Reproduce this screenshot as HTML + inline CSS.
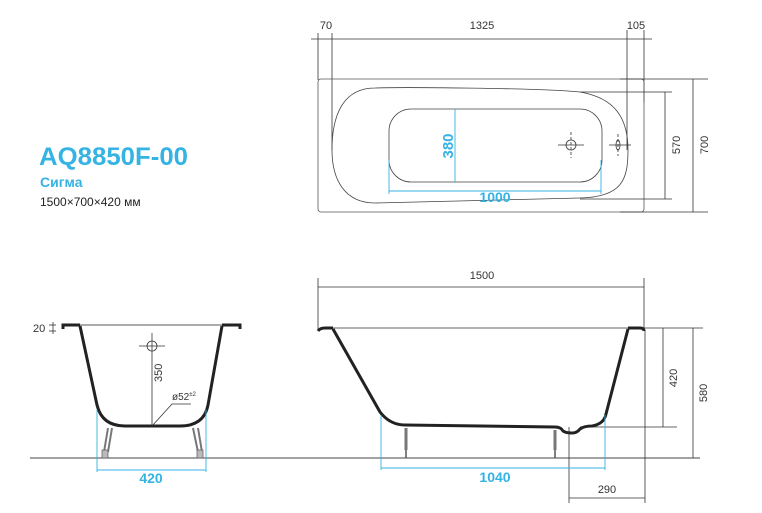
<!DOCTYPE html>
<html><head><meta charset="utf-8"><style>
html,body{margin:0;padding:0;background:#fff;}
svg{display:block;font-family:"Liberation Sans",sans-serif;}
</style></head><body>
<svg width="762" height="513" viewBox="0 0 762 513" xmlns="http://www.w3.org/2000/svg">
<rect width="762" height="513" fill="#fff"/>
<!-- title -->
<text x="39" y="165" font-size="25" font-weight="bold" fill="#35b3e3" textLength="149" lengthAdjust="spacingAndGlyphs">AQ8850F-00</text>
<text x="40" y="187" font-size="14" font-weight="bold" fill="#35b3e3">Сигма</text>
<text x="40" y="206" font-size="12" fill="#222">1500×700×420 мм</text>

<g stroke="#333" stroke-width="0.8" fill="none">
<!-- top view -->
<line x1="311" y1="39" x2="652" y2="39"/>
<line x1="318" y1="33" x2="318" y2="80"/>
<line x1="332" y1="33" x2="332" y2="150"/>
<line x1="627" y1="30" x2="627" y2="150"/>
<line x1="644" y1="30" x2="644" y2="102"/>
<rect x="318" y="79" width="326" height="133" rx="3" stroke="#555"/>
<path d="M375,88 C400,87 540,88 580,92 C615,98 628,118 628,150 C628,180 622,197 580,198 L375,203 C345,203 332,180 332,150 C332,112 345,88 375,88 Z" stroke="#444"/>
<rect x="389" y="109" width="213" height="73" rx="22" stroke="#444"/>
<line x1="580" y1="92" x2="672" y2="92"/>
<line x1="580" y1="199" x2="672" y2="199"/>
<line x1="665" y1="92" x2="665" y2="199"/>
<line x1="620" y1="79" x2="708" y2="79"/>
<line x1="620" y1="212" x2="708" y2="212"/>
<line x1="693" y1="79" x2="693" y2="212"/>
<circle cx="571" cy="145" r="5"/>
<line x1="558" y1="145" x2="584" y2="145"/><line x1="571" y1="132" x2="571" y2="158" stroke-dasharray="3,2"/>
<ellipse cx="618" cy="145" rx="2" ry="5"/>
<line x1="609" y1="145" x2="631" y2="145"/><line x1="618" y1="134" x2="618" y2="156" stroke-dasharray="3,2"/>
</g>
<g stroke="#35b3e3" stroke-width="0.9">
<line x1="455" y1="109" x2="455" y2="182"/>
<line x1="389" y1="191" x2="601" y2="191"/>
<line x1="389" y1="160" x2="389" y2="194"/>
<line x1="601" y1="160" x2="601" y2="194"/>
</g>
<g font-size="11" fill="#333">
<text x="326" y="29" text-anchor="middle">70</text>
<text x="482" y="29" text-anchor="middle">1325</text>
<text x="636" y="29" text-anchor="middle">105</text>
<text transform="translate(680,145) rotate(-90)" text-anchor="middle">570</text>
<text transform="translate(708,145) rotate(-90)" text-anchor="middle">700</text>
</g>
<text transform="translate(453,146) rotate(-90)" text-anchor="middle" font-size="15" font-weight="bold" fill="#35b3e3">380</text>
<text x="495" y="202" text-anchor="middle" font-size="14" font-weight="bold" fill="#35b3e3">1000</text>

<!-- floor -->
<line x1="30" y1="458" x2="700" y2="458" stroke="#444" stroke-width="0.9"/>

<!-- left side view -->
<g fill="none" stroke="#222">
<path d="M63,325 L240,325" stroke-width="0.8"/>
<path d="M63,329 L63,325 L80,325" stroke-width="3"/>
<path d="M240,329 L240,325 L222,325" stroke-width="3"/>
<path d="M80,326 L97,405 Q102,426 125,426 L180,426 Q204,426 208,405 L222,326" stroke-width="3"/>
<path d="M108,428 L104,452 M112,428 L108,452 M193,428 L198,452 M198,428 L202,452" stroke="#777" stroke-width="2"/>
<rect x="102" y="450" width="6" height="8" fill="#bbb" stroke="#555" stroke-width="0.7"/>
<rect x="197" y="450" width="6" height="8" fill="#bbb" stroke="#555" stroke-width="0.7"/>
</g>
<g stroke="#333" stroke-width="0.8" fill="none">
<line x1="152" y1="333" x2="152" y2="426"/>
<circle cx="152" cy="346" r="5"/>
<line x1="139" y1="346" x2="165" y2="346"/>
<polyline points="152,426 172,404 191,404"/>
<line x1="49" y1="325" x2="56" y2="325"/><line x1="49" y1="331" x2="56" y2="331"/><line x1="53" y1="322" x2="53" y2="334"/>
</g>
<g stroke="#35b3e3" stroke-width="0.9">
<line x1="97" y1="410" x2="97" y2="472"/>
<line x1="206" y1="410" x2="206" y2="472"/>
<line x1="97" y1="470" x2="206" y2="470"/>
</g>
<g font-size="11" fill="#333">
<text x="33" y="332">20</text>
<text transform="translate(162,382) rotate(-90)">350</text>
<text x="172" y="400" font-size="10">ø52<tspan font-size="6" dy="-4">±2</tspan></text>
</g>
<text x="151" y="483" text-anchor="middle" font-size="14" font-weight="bold" fill="#35b3e3">420</text>

<!-- right side view -->
<g stroke="#333" stroke-width="0.8" fill="none">
<line x1="318" y1="287" x2="644" y2="287"/>
<line x1="318" y1="278" x2="318" y2="330"/>
<line x1="644" y1="278" x2="644" y2="330"/>
<line x1="330" y1="328" x2="703" y2="328"/>
<line x1="580" y1="427" x2="677" y2="427"/>
<line x1="663" y1="328" x2="663" y2="427"/>
<line x1="693" y1="328" x2="693" y2="458"/>
<line x1="569" y1="427" x2="569" y2="503"/>
<line x1="645" y1="330" x2="645" y2="503"/>
<line x1="569" y1="498" x2="645" y2="498"/>
</g>
<g fill="none" stroke="#222" stroke-width="3">
<path d="M318,331 Q320,328 325,328 L333,328"/>
<path d="M628,328 L640,328 Q644,328 644,331"/>
<path d="M333,329 L380,412 Q390,425 405,425 L555,427 Q561,427 563,431 Q566,433 572,433 Q577,433 580,429 Q584,426 592,426 Q604,424 606,414 L628,329"/>
</g>
<g stroke="#777" stroke-width="3">
<line x1="406" y1="428" x2="406" y2="450"/>
<line x1="555" y1="430" x2="555" y2="450"/>
</g>
<g stroke="#555" stroke-width="1.5"><line x1="406" y1="450" x2="406" y2="458"/><line x1="555" y1="450" x2="555" y2="458"/></g>
<g stroke="#35b3e3" stroke-width="0.9">
<line x1="381" y1="415" x2="381" y2="470"/>
<line x1="605" y1="415" x2="605" y2="470"/>
<line x1="381" y1="468" x2="605" y2="468"/>
</g>
<g font-size="11" fill="#333">
<text x="482" y="279" text-anchor="middle">1500</text>
<text transform="translate(677,378) rotate(-90)" text-anchor="middle">420</text>
<text transform="translate(707,393) rotate(-90)" text-anchor="middle">580</text>
<text x="607" y="493" text-anchor="middle">290</text>
</g>
<text x="495" y="482" text-anchor="middle" font-size="14" font-weight="bold" fill="#35b3e3">1040</text>
</svg>
</body></html>
